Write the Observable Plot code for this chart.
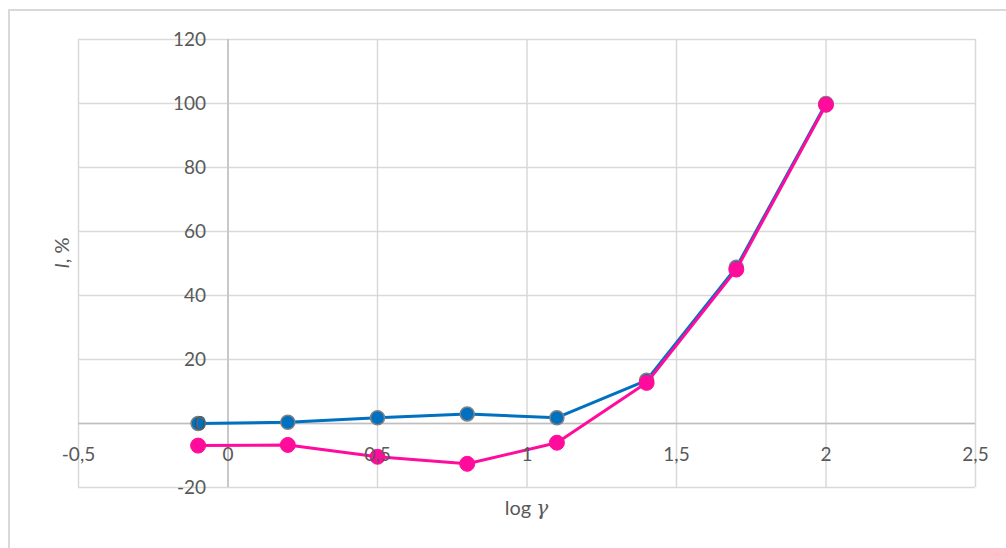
<!DOCTYPE html>
<html>
<head>
<meta charset="utf-8">
<script src="https://cdn.jsdelivr.net/npm/d3@7"></script>
<script src="https://cdn.jsdelivr.net/npm/@observablehq/plot@0.6"></script>
<style>
  html, body { margin: 0; padding: 0; background: #fff; }
  #wrap { position: relative; width: 1006px; height: 548px; overflow: hidden; }
  #border { position: absolute; left: 8px; top: 9px; width: 1000px; height: 560px; border: 2px solid #d9d9d9; box-sizing: border-box; pointer-events: none; }
  svg { display: block; }
</style>
</head>
<body>
<div id="wrap"><div id="border"></div></div>
<script>
const logGamma = [-0.1, 0.2, 0.5, 0.8, 1.1, 1.4, 1.7, 2.0];
const seriesBlue = [0, 0.4, 1.8, 3.0, 1.8, 13.5, 48.8, 100];
const seriesPink = [-6.9, -6.7, -10.4, -12.6, -6.0, 12.7, 48.1, 99.6];
const xTicks = [-0.5, 0, 0.5, 1, 1.5, 2, 2.5];
const yTicks = [-20, 0, 20, 40, 60, 80, 100, 120];

const blueData = logGamma.map((x, i) => ({x, y: seriesBlue[i]}));
const pinkData = logGamma.map((x, i) => ({x, y: seriesPink[i]}));
const fmt = d => String(d).replace(".", ",");
const FONT = "Lato, 'Open Sans', sans-serif";
const BLUE = "#0070c0";
const PINK = "#ff0c9c";

const plot = Plot.plot({
  width: 1006,
  height: 548,
  marginLeft: 78,
  marginTop: 39,
  marginRight: 31,
  marginBottom: 61,
  style: {fontFamily: FONT, background: "transparent"},
  x: {domain: [-0.5, 2.5], axis: null},
  y: {domain: [-20, 120], axis: null},
  marks: [
    Plot.ruleX(xTicks, {stroke: "#d9d9d9", strokeWidth: 1.5}),
    Plot.ruleY(yTicks, {stroke: "#d9d9d9", strokeWidth: 1.5}),
    Plot.ruleX([0], {stroke: "#bfbfbf", strokeWidth: 1.5}),
    Plot.ruleY([0], {stroke: "#bfbfbf", strokeWidth: 1.5}),
    Plot.line(blueData, {x: "x", y: "y", stroke: BLUE, strokeWidth: 3}),
    Plot.dot(blueData, {x: "x", y: "y", r: 7, fill: BLUE, stroke: "#808080", strokeWidth: 1.5}),
    Plot.line(pinkData, {x: "x", y: "y", stroke: PINK, strokeWidth: 3}),
    Plot.dot(pinkData, {x: "x", y: "y", r: 7.5, fill: PINK, stroke: PINK, strokeWidth: 1}),
    Plot.text(yTicks, {x: 0, y: d => d, text: fmt, dx: -22, textAnchor: "end", fontSize: 19, fill: "#595959"}),
    Plot.text(xTicks, {x: d => d, y: 0, text: fmt, dy: 31, textAnchor: "middle", fontSize: 19, fill: "#595959"})
  ]
});

const svg = d3.select(plot);
const xs = plot.scale("x"), ys = plot.scale("y");
const cx = (xs.apply(-0.5) + xs.apply(2.5)) / 2;
const cy = (ys.apply(-20) + ys.apply(120)) / 2;

const xl = svg.append("text")
  .attr("x", cx).attr("y", 515)
  .attr("text-anchor", "middle")
  .attr("font-size", 20).attr("fill", "#595959")
  .attr("font-family", FONT);
xl.append("tspan").text("log ");
xl.append("tspan").attr("font-style", "italic").attr("font-family", "'DejaVu Serif', 'Liberation Serif', serif").text("γ");

const yl = svg.append("text")
  .attr("transform", `translate(69,${cy - 10}) rotate(-90)`)
  .attr("text-anchor", "middle")
  .attr("font-size", 20).attr("fill", "#595959")
  .attr("font-family", FONT);
yl.append("tspan").attr("font-style", "italic").text("I");
yl.append("tspan").text(", %");

document.getElementById("wrap").prepend(plot);
</script>
</body>
</html>
